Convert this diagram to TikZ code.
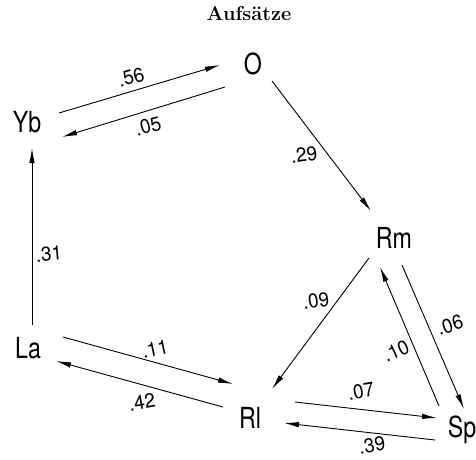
\documentclass[tikz,border=0pt]{standalone}
\usepackage{fontspec}
\setmainfont{Latin Modern Roman}
\newfontfamily\namefont[FakeStretch=0.8]{TeX Gyre Heros}
\newfontfamily\numfont[FakeStretch=0.95]{TeX Gyre Heros}
\usetikzlibrary{arrows.meta,calc}
\begin{document}
\begin{tikzpicture}[x=1pt,y=-1pt,
  vname/.style={font=\namefont\fontsize{29}{29}\selectfont, inner sep=0pt},
  lbl/.style={font=\numfont\fontsize{20}{20}\selectfont, inner sep=0pt},
  arr/.style={line width=0.9pt, -{Latex[length=15pt,width=5.5pt]}},
  ]
\useasboundingbox (0,0) rectangle (476,459);
\node[font=\bfseries\fontsize{20}{20}\selectfont, inner sep=0pt] (title) at (249,14) {Aufsätze};
% nodes
\node[vname] (O)  at (253,64)  {O};
\node[vname] (Yb) at (27,122)  {Yb};
\node[vname] (Rm) at (394,238) {Rm};
\node[vname] (La) at (28,348)  {La};
\node[vname] (Rl) at (250,418) {Rl};
\node[vname] (Sp) at (462,430) {Sp};
% edges
\draw[arr] ($(Yb)+(32,-9)$) -- ($(O)+(-33,1)$);
\draw[arr] ($(O)+(-28,23)$) -- ($(Yb)+(35,15)$);
\draw[arr] ($(O)+(19,17)$) -- ($(Rm)+(-23,-27)$);
\draw[arr] ($(Rm)+(-25,20)$) -- ($(Rl)+(22,-29)$);
\draw[arr] ($(Sp)+(-23,-24)$) -- ($(Rm)+(-14,29)$);
\draw[arr] ($(Rm)+(8,27)$) -- ($(Sp)+(2,-21)$);
\draw[arr] ($(La)+(4,-23)$) -- ($(Yb)+(5,26)$);
\draw[arr] ($(La)+(35,-11)$) -- ($(Rl)+(-17,-34)$);
\draw[arr] ($(Rl)+(-27,-11)$) -- ($(La)+(28,13)$);
\draw[arr] ($(Rl)+(45,-16)$) -- ($(Sp)+(-25,-12)$);
\draw[arr] ($(Sp)+(-27,10)$) -- ($(Rl)+(34,5)$);
% labels
\node[lbl, rotate=15] (l56) at (131,77)  {.56};
\node[lbl, rotate=15] (l05) at (148,126) {.05};
\node[lbl, rotate=8]  (l29) at (304,155) {.29};
\node[lbl, rotate=8]  (l09) at (316,301) {.09};
\node[lbl, rotate=25] (l10) at (396,351) {.10};
\node[lbl, rotate=18] (l06) at (450,325) {.06};
\node[lbl, rotate=5]  (l31) at (49,254)  {.31};
\node[lbl, rotate=12] (l11) at (155,349) {.11};
\node[lbl, rotate=10] (l42) at (142,402) {.42};
\node[lbl, rotate=10] (l07) at (361,391) {.07};
\node[lbl, rotate=10] (l39) at (372,445) {.39};
\end{tikzpicture}
\end{document}
